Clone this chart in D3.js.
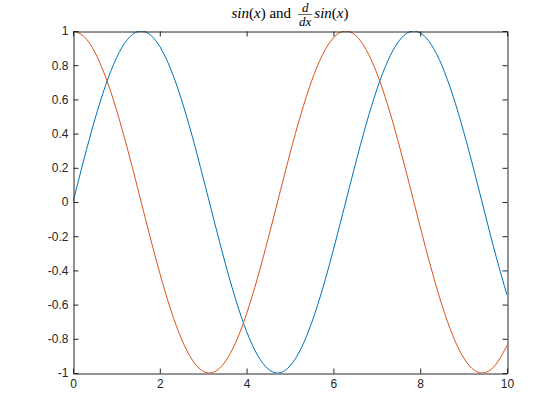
<!DOCTYPE html>
<html>
<head>
<meta charset="utf-8">
<script src="https://cdn.jsdelivr.net/npm/d3@7"></script>
<style>
html,body{margin:0;padding:0;background:#fff;}
svg{display:block;}
</style>
</head>
<body>
<svg id="chart" width="560" height="420"></svg>
<script>
const xValues = [0,0.25,0.5,0.75,1,1.25,1.5,1.75,2,2.25,2.5,2.75,3,3.25,3.5,3.75,4,4.25,4.5,4.75,5,5.25,5.5,5.75,6,6.25,6.5,6.75,7,7.25,7.5,7.75,8,8.25,8.5,8.75,9,9.25,9.5,9.75,10];
const sinValues = [0,0.2474,0.4794,0.6816,0.8415,0.9490,0.9975,0.9840,0.9093,0.7781,0.5985,0.3817,0.1411,-0.1082,-0.3508,-0.5716,-0.7568,-0.8950,-0.9775,-0.9993,-0.9589,-0.8589,-0.7055,-0.5083,-0.2794,-0.0332,0.2151,0.4500,0.6570,0.8231,0.9380,0.9946,0.9894,0.9228,0.7985,0.6247,0.4121,0.1743,-0.0752,-0.3195,-0.5440];
const cosValues = [1,0.9689,0.8776,0.7317,0.5403,0.3153,0.0707,-0.1782,-0.4161,-0.6282,-0.8011,-0.9243,-0.9900,-0.9941,-0.9365,-0.8206,-0.6536,-0.4461,-0.2108,0.0376,0.2837,0.5121,0.7087,0.8612,0.9602,0.9994,0.9766,0.8930,0.7539,0.5679,0.3466,0.1042,-0.1455,-0.3854,-0.6020,-0.7807,-0.9111,-0.9847,-0.9972,-0.9477,-0.8391];
const xTicks = [0,2,4,6,8,10];
const xTickLabels = ["0","2","4","6","8","10"];
const yTicks = [-1,-0.8,-0.6,-0.4,-0.2,0,0.2,0.4,0.6,0.8,1];
const yTickLabels = ["-1","-0.8","-0.6","-0.4","-0.2","0","0.2","0.4","0.6","0.8","1"];
const seriesColors = ["#0072BD","#D95319"];

const svg = d3.select("#chart");
const L = 73, R = 507, T = 31, B = 373;
const axisColor = "#262626";
const x = d3.scaleLinear().domain([0,10]).range([L,R]);
const y = d3.scaleLinear().domain([-1,1]).range([B,T]);

svg.append("defs").append("clipPath").attr("id","clip")
  .append("rect").attr("x",L).attr("y",T).attr("width",R-L).attr("height",B-T);

const line = d3.line().x((d,i)=>x(xValues[i])).y(d=>y(d)).curve(d3.curveNatural);
const plot = svg.append("g").attr("clip-path","url(#clip)");
[sinValues, cosValues].forEach((s,k)=>{
  plot.append("path").attr("d", line(s)).attr("fill","none")
    .attr("stroke", seriesColors[k]).attr("stroke-width",1);
});

// axes (MATLAB-like box with inward ticks)
const tl = 5;
const axB = d3.axisBottom(x).tickValues(xTicks).tickFormat((d,i)=>xTickLabels[i]).tickSizeInner(-tl).tickSizeOuter(0).tickPadding(6);
const axT = d3.axisTop(x).tickValues(xTicks).tickFormat("").tickSizeInner(-tl).tickSizeOuter(0);
const axLft = d3.axisLeft(y).tickValues(yTicks).tickFormat((d,i)=>yTickLabels[i]).tickSizeInner(-tl).tickSizeOuter(0).tickPadding(5);
const axRt = d3.axisRight(y).tickValues(yTicks).tickFormat("").tickSizeInner(-tl).tickSizeOuter(0);

function style(g){
  g.selectAll("path").attr("stroke",axisColor).attr("stroke-width",1);
  g.selectAll("line").attr("stroke",axisColor).attr("stroke-width",1);
  g.selectAll("text").attr("fill",axisColor).attr("font-family","'Liberation Sans', Arial, sans-serif").attr("font-size",12);
}
svg.append("g").attr("transform",`translate(0,${B+0.5})`).call(axB).call(style);
svg.append("g").attr("transform",`translate(0,${T+0.5})`).call(axT).call(style);
svg.append("g").attr("transform",`translate(${L+0.5},0)`).call(axLft).call(style);
svg.append("g").attr("transform",`translate(${R+0.5},0)`).call(axRt).call(style);

// title: sin(x) and d/dx sin(x)
const tg = svg.append("g").attr("font-family","'Liberation Serif','Times New Roman',serif").attr("font-size",15).attr("fill","#000");
let cx = 0;
function part(pieces, baseline){
  const t = tg.append("text").attr("x",cx).attr("y",baseline);
  pieces.forEach(p=>t.append("tspan").attr("font-style",p[1]?"italic":"normal").text(p[0]));
  return t;
}
const sinPieces = [["sin",true],["(",false],["x",true],[")",false]];
let t1 = part(sinPieces.concat([[" and",false]]), 17.5);
cx += t1.node().getComputedTextLength() + 7;
const num = tg.append("text").attr("y",11.6).attr("font-size",13).attr("font-style","italic").text("d");
const den = tg.append("text").attr("y",26).attr("font-size",13).attr("font-style","italic").text("dx");
const fw = Math.max(num.node().getComputedTextLength(), den.node().getComputedTextLength()) + 2;
num.attr("x", cx + fw/2).attr("text-anchor","middle");
den.attr("x", cx + fw/2).attr("text-anchor","middle");
tg.append("line").attr("x1",cx).attr("x2",cx+fw).attr("y1",14.5).attr("y2",14.5).attr("stroke","#000").attr("stroke-width",0.6);
cx += fw + 2;
let t2 = part(sinPieces, 17.5);
cx += t2.node().getComputedTextLength();
tg.attr("transform",`translate(${(L+R)/2 - cx/2},0)`);
</script>
</body>
</html>
